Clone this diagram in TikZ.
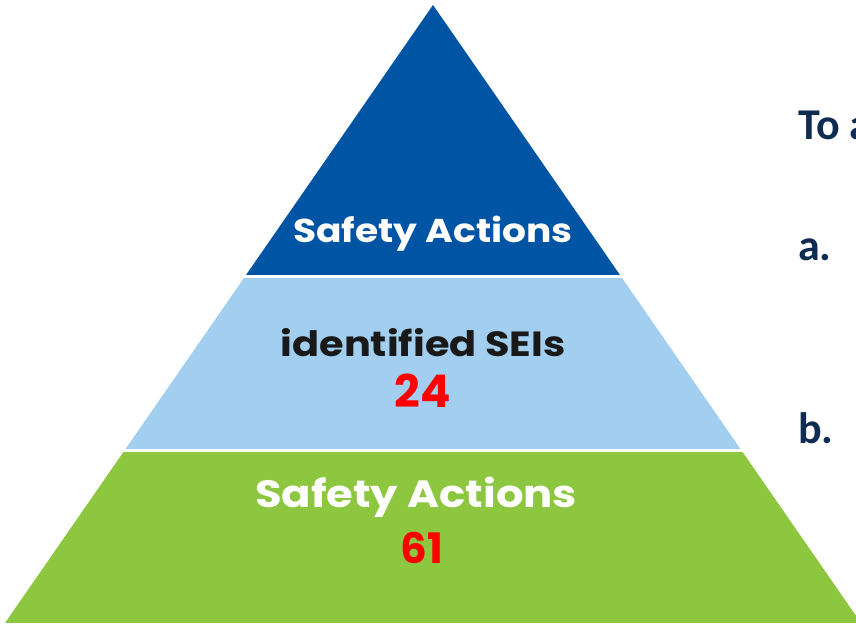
\documentclass[tikz,border=0pt]{standalone}
\usepackage{fontspec}
\usepackage{xcolor}
\setmainfont{Poppins}
\newfontfamily\tierfont[FakeStretch=1.14]{Poppins}
\newfontfamily\notefont{Carlito}
\usetikzlibrary{positioning}
\definecolor{tierblue}{HTML}{0054A4}
\definecolor{tierlight}{HTML}{A2CFF0}
\definecolor{tiergreen}{HTML}{8DC63F}
\definecolor{countred}{HTML}{FF0000}
\definecolor{notenavy}{HTML}{0F2C52}
\tikzstyle{tierlabel} = [anchor=base, inner sep=0pt]
\tikzstyle{count} = [anchor=base, inner sep=0pt, text=countred]
\tikzstyle{note} = [anchor=base west, inner sep=0pt, font=\notefont\bfseries\fontsize{44}{48}\selectfont, text=notenavy]

\begin{document}
\begin{tikzpicture}[x=1pt, y=-1pt]
\useasboundingbox (0,0) rectangle (856,627);

% Pyramid
\coordinate (apex) at (433,5);
\coordinate (base-left) at (5,623);
\coordinate (base-right) at (861,623);
\begin{scope}
\clip (apex) -- (base-left) -- (base-right) -- cycle;
\fill[tierblue] (0,0) rectangle (870,275);
\fill[tierlight] (0,278) rectangle (870,449);
\fill[tiergreen] (0,452) rectangle (870,623);
\end{scope}

% Labels
\node (top-label) [tierlabel, text=white, font=\tierfont\bfseries\fontsize{33}{36}\selectfont] at (433,242) {Safety Actions};
\node (mid-label) [tierlabel, text=black!90, font=\tierfont\bfseries\fontsize{35}{38}\selectfont] at (423,356) {identified SEIs};
\node (mid-count) [count, font=\bfseries\fontsize{45}{48}\selectfont] at (423,407) {24};
\node (low-label) [tierlabel, text=white, font=\tierfont\bfseries\fontsize{38}{42}\selectfont] at (416,507) {Safety Actions};
\node (low-count) [count, font=\bfseries\fontsize{42}{46}\selectfont] at (422,563) {61};

% Notes
\node (note-head) [note] at (798,139) {To a};
\node (note-a) [note] at (798,260) {a.};
\node (note-b) [note] at (798,443) {b.};

\end{tikzpicture}
\end{document}
